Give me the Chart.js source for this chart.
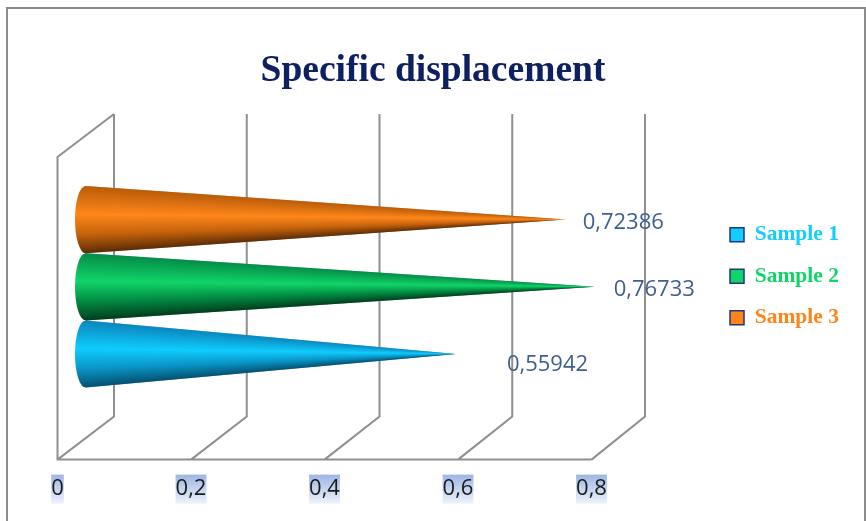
<!DOCTYPE html>
<html>
<head>
<meta charset="utf-8">
<script src="https://cdn.jsdelivr.net/npm/chart.js@4"></script>
<style>
    body { margin: 0; background: #fff; }
    canvas { display: block; }
</style>
</head>
<body>
<canvas id="coneChart" width="866" height="521"></canvas>
<script>
// --- Data ---
const categories = ["Specific displacement"];
const seriesNames = ["Sample 1", "Sample 2", "Sample 3"];
const seriesValues = [0.55942, 0.76733, 0.72386];
const xTicks = [0, 0.2, 0.4, 0.6, 0.8];

// --- Styles ---
const seriesColors = ["#12cdff", "#10d468", "#ff8418"];
// top edge, highlight, lower part, bottom edge of each cone
const coneShades = [
    ["#0a86bd", "#10ccff", "#0a94c6", "#04506f"],
    ["#058c48", "#10d468", "#028a42", "#023d1d"],
    ["#b95c08", "#ff861a", "#c4620c", "#5c2b05"]
];
const shadeStops = [0, 0.42, 0.72, 1];
const labelOffsets = [[51, 10.5], [19, 2.5], [17, 3.5]];
const GRID_COLOR = "#8f8f8f";
const TICK_FONT = "22px 'Open Sans'";
const WALL_DY = -43;                   // depth of the 3D box
const CONE_DX = 25, CONE_DY = -21.5;   // cones stand in the middle of the box

function wallDx(value) {
    return 56.5 - 3 * (value / xTicks[xTicks.length - 1]);
}

function shadeGradient(ctx, y0, y1, shades) {
    const grad = ctx.createLinearGradient(0, y0, 0, y1);
    shades.forEach((c, i) => grad.addColorStop(shadeStops[i], c));
    return grad;
}

function drawCone(ctx, bar, shades) {
    const tipX = bar.x + CONE_DX;
    const cy = bar.y + CONE_DY;
    const ry = bar.height / 2;
    const baseX = bar.base + CONE_DX + 3;

    ctx.save();
    ctx.beginPath();
    ctx.moveTo(tipX, cy);
    ctx.lineTo(baseX, cy + ry);
    ctx.ellipse(baseX, cy, 10.5, ry, 0, Math.PI / 2, Math.PI * 1.5);
    ctx.closePath();
    ctx.clip();

    // round end of the cone
    ctx.fillStyle = shadeGradient(ctx, cy - ry, cy + ry, shades);
    ctx.fillRect(baseX - 11, cy - ry, 12, 2 * ry);

    // body: one column per pixel, the shading narrows towards the tip
    for (let x = baseX; x < tipX; x++) {
        const half = ry * (tipX - x) / (tipX - baseX);
        ctx.fillStyle = shadeGradient(ctx, cy - half, cy + half, shades);
        ctx.fillRect(x, cy - half - 1, 1.5, 2 * half + 2);
    }
    ctx.restore();
}

// --- Page frame, 3D box, cones and value labels ---
const conePlugin = {
    id: "cones",
    afterLayout(chart) {
        const legend = chart.legend;
        legend.left = 710;
        legend.right = 860;
        legend.top = 204;
        legend.bottom = 440;
        // title is centred on the whole page, not on the plot
        chart.titleBlock.left = 0;
        chart.titleBlock.right = chart.width;
    },
    beforeDraw(chart) {
        const ctx = chart.ctx;
        const xScale = chart.scales.x;
        ctx.save();
        ctx.strokeStyle = "#8c8c8c";
        ctx.lineWidth = 2;
        ctx.strokeRect(7, 8, 858, 560);

        // shaded strip behind each tick label
        const stripTop = chart.chartArea.bottom + 15;
        const stripH = 29;
        const g = ctx.createLinearGradient(0, stripTop, 0, stripTop + stripH);
        g.addColorStop(0, "#9db6e4");
        g.addColorStop(1, "#eef2fb");
        ctx.fillStyle = g;
        ctx.font = TICK_FONT;
        xScale.ticks.forEach((tick, i) => {
            const w = ctx.measureText(tick.label).width;
            ctx.fillRect(xScale.getPixelForTick(i) - w / 2, stripTop, w, stripH);
        });
        ctx.restore();
    },
    beforeDatasetsDraw(chart) {
        const ctx = chart.ctx;
        const xScale = chart.scales.x;
        const { top, bottom } = chart.chartArea;
        const x0 = xScale.getPixelForValue(xTicks[0]);

        ctx.save();
        ctx.strokeStyle = GRID_COLOR;
        ctx.lineWidth = 2;
        ctx.beginPath();
        ctx.moveTo(xScale.getPixelForValue(xTicks[xTicks.length - 1]), bottom);
        ctx.lineTo(x0, bottom);
        ctx.lineTo(x0, top);
        ctx.lineTo(x0 + wallDx(xTicks[0]), top + WALL_DY);
        xTicks.forEach(t => {
            const x = xScale.getPixelForValue(t);
            ctx.moveTo(x, bottom);
            ctx.lineTo(x + wallDx(t), bottom + WALL_DY);
            ctx.lineTo(x + wallDx(t), top + WALL_DY);
        });
        ctx.stroke();
        ctx.restore();

        chart.data.datasets.forEach((ds, i) => {
            drawCone(ctx, chart.getDatasetMeta(i).data[0], coneShades[i]);
        });

        ctx.save();
        ctx.font = TICK_FONT;
        ctx.fillStyle = "#3f5f8e";
        ctx.textBaseline = "middle";
        chart.data.datasets.forEach((ds, i) => {
            const bar = chart.getDatasetMeta(i).data[0];
            const text = String(ds.data[0]).replace(".", ",");
            ctx.fillText(text, bar.x + CONE_DX + labelOffsets[i][0], bar.y + CONE_DY + labelOffsets[i][1]);
        });
        ctx.restore();
        return false; // the cones replace the flat bars
    }
};

new Chart(document.getElementById("coneChart"), {
    type: "bar",
    data: {
        labels: categories,
        datasets: seriesNames.map((name, i) => ({
            label: name,
            data: [seriesValues[i]],
            order: seriesNames.length - i, // first series sits at the bottom
            backgroundColor: seriesColors[i],
            borderColor: "#1f3a78",
            borderWidth: 1.5
        }))
    },
    options: {
        indexAxis: "y",
        responsive: false,
        animation: false,
        categoryPercentage: 0.666,
        barPercentage: 1,
        layout: { padding: { left: 57.5, right: 274.5, top: 0, bottom: 11 } },
        scales: {
            x: {
                min: 0,
                max: 0.8,
                afterBuildTicks: axis => { axis.ticks = xTicks.map(v => ({ value: v })); },
                grid: { display: false },
                border: { display: false },
                ticks: {
                    maxRotation: 0,
                    padding: 8,
                    color: "#1a1a1a",
                    font: { family: "'Open Sans'", size: 22 },
                    callback: v => String(v).replace(".", ",")
                }
            },
            y: { display: false }
        },
        plugins: {
            title: {
                display: true,
                text: categories[0],
                color: "#0f2060",
                font: { family: "'Liberation Serif'", size: 37.5, weight: "bold" },
                padding: { top: 49, bottom: 63 }
            },
            legend: {
                position: "chartArea",
                align: "start",
                labels: {
                    boxWidth: 14,
                    boxHeight: 14,
                    padding: 20,
                    font: { family: "'Liberation Serif'", size: 21.5, weight: "bold" },
                    sort: (a, b) => a.datasetIndex - b.datasetIndex,
                    generateLabels: chart => Chart.defaults.plugins.legend.labels.generateLabels(chart)
                        .map(item => ({ ...item, fontColor: seriesColors[item.datasetIndex] }))
                }
            },
            tooltip: { enabled: false }
        }
    },
    plugins: [conePlugin]
});
</script>
</body>
</html>
